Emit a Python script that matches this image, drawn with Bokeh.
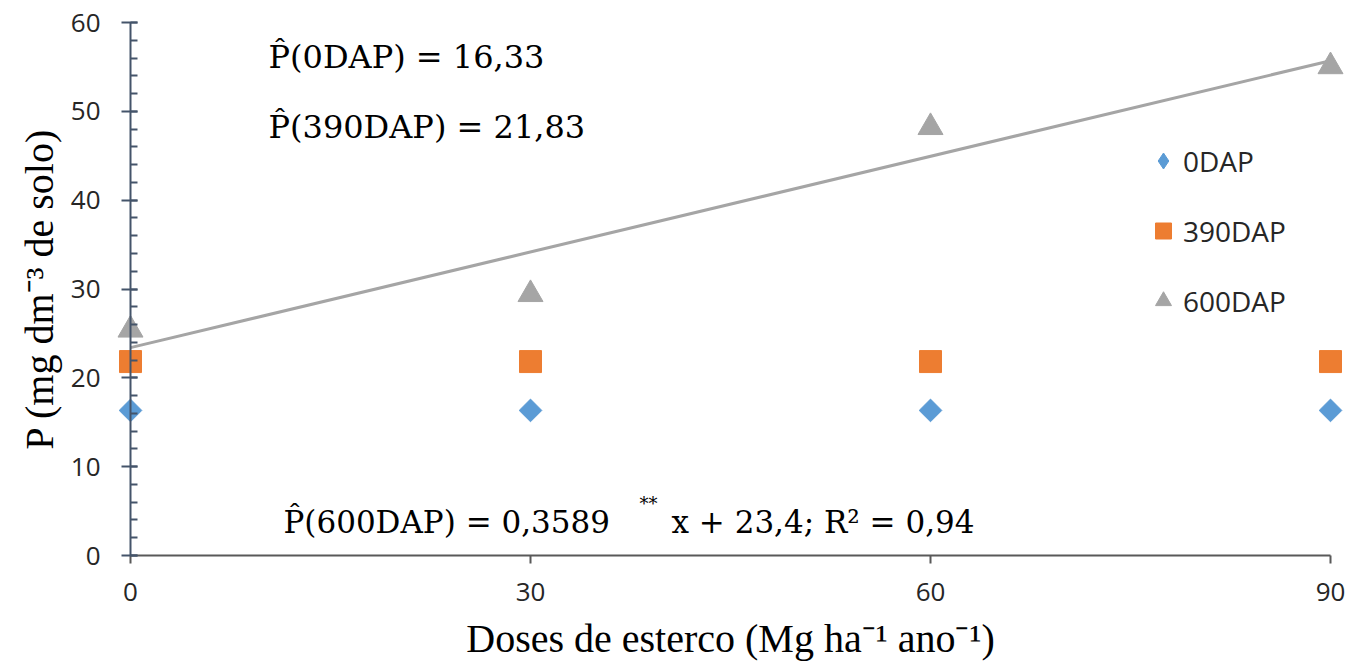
from bokeh.plotting import figure
from bokeh.models import Range1d, FixedTicker, SingleIntervalTicker, Legend, LegendItem, Label
from bokeh.embed import file_html
from bokeh.resources import INLINE
import math

# ---- data ----
doses = [0, 30, 60, 90]
p_0dap = [16.33, 16.33, 16.33, 16.33]
p_390dap = [21.83, 21.83, 21.83, 21.83]
p_600dap = [25.4, 29.4, 48.2, 55.05]
trend_slope = 0.3589
trend_intercept = 23.4
series_names = ["0DAP", "390DAP", "600DAP"]
x_ticks = [0, 30, 60, 90]

# ---- layout (pixels) ----
W, H = 1346, 666
X0_PX, X90_PX = 130, 1330      # canvas px of x=0 and x=90
Y60_PX, Y0_PX = 22, 555        # canvas px of y=60 and y=0
sx = (X90_PX - X0_PX) / 90.0
sy = (Y0_PX - Y60_PX) / 60.0
x_start = -X0_PX / sx
x_end = 90 + (W - X90_PX) / sx
y_end = 60 + Y60_PX / sy
y_start = -(H - Y0_PX) / sy

p = figure(width=W, height=H, output_backend="svg", toolbar_location=None,
           x_range=Range1d(x_start, x_end), y_range=Range1d(y_start, y_end),
           min_border=0, outline_line_color=None)
p.xgrid.visible = False
p.ygrid.visible = False
p.title.visible = False

# axes
xa = p.xaxis[0]
ya = p.yaxis[0]
xa.fixed_location = 0
ya.fixed_location = 0
xa.bounds = (0, 90)
ya.bounds = (0, 60)
xa.ticker = FixedTicker(ticks=x_ticks, minor_ticks=[])
ya.ticker = SingleIntervalTicker(interval=10, num_minor_ticks=5)

xa.axis_line_color = "#595959"
xa.axis_line_width = 2
xa.major_tick_line_color = "#595959"
xa.major_tick_line_width = 2
xa.major_tick_in = 0
xa.major_tick_out = 8
xa.minor_tick_line_color = None

ya.axis_line_color = "#44546A"
ya.axis_line_width = 2
ya.major_tick_line_color = "#44546A"
ya.major_tick_line_width = 2
ya.minor_tick_line_color = "#44546A"
ya.minor_tick_line_width = 2
ya.major_tick_in = 7
ya.major_tick_out = 9
ya.minor_tick_in = 7
ya.minor_tick_out = 0

for ax in (xa, ya):
    ax.major_label_text_font = "Open Sans"
    ax.major_label_text_font_size = "26px"
    ax.major_label_text_color = "#262626"
    ax.axis_label_text_font = "Liberation Serif"
    ax.axis_label_text_font_size = "40px"
    ax.axis_label_text_font_style = "normal"
    ax.axis_label_text_color = "#000000"

xa.major_label_standoff = 19
ya.major_label_standoff = 21
xa.axis_label = "Doses de esterco (Mg ha\u207b\u00b9 ano\u207b\u00b9)"
ya.axis_label = "P (mg dm\u207b\u00b3 de solo)"
xa.axis_label_standoff = 12
ya.axis_label_standoff = 6

# trend line for 600DAP
tx = [doses[0], doses[-1]]
ty = [trend_slope * v + trend_intercept for v in tx]
p.line(tx, ty, line_color="#A5A5A5", line_width=3)

# legend key for the diamond series (hidden under the rotated squares)
r0_key = p.scatter(doses, p_0dap, marker="diamond", size=15,
                   fill_color="#5B9BD5", line_color="#5B9BD5")
r0 = p.scatter(doses, p_0dap, marker="square", size=16, angle=math.pi / 4,
               fill_color="#5B9BD5", line_color="#5B9BD5")
r1 = p.scatter(doses, p_390dap, marker="square", size=22,
               fill_color="#ED7D31", line_color="#ED7D31")
r2 = p.scatter(doses, p_600dap, marker="triangle", size=25,
               fill_color="#A5A5A5", line_color="#A5A5A5")

legend = Legend(items=[LegendItem(label=series_names[0], renderers=[r0_key]),
                       LegendItem(label=series_names[1], renderers=[r1]),
                       LegendItem(label=series_names[2], renderers=[r2])],
                location=(1143, 343), glyph_width=40, glyph_height=45,
                spacing=25, padding=0, margin=0, label_standoff=0,
                border_line_color=None, background_fill_alpha=0,
                label_text_font="Open Sans", label_text_font_size="28px",
                label_text_color="#262626")
p.add_layout(legend)

# equation annotations
def dx(page_x):
    return (page_x - X0_PX) / sx

def dy(page_y):
    return (Y0_PX - page_y) / sy

eq_font = "DejaVu Serif"
for txt, px_, py_, fs in [
    ("P\u0302(0DAP) = 16,33", 268, 56, "32px"),
    ("P\u0302(390DAP) = 21,83", 268, 126, "32px"),
    ("P\u0302(600DAP) = 0,3589", 283, 521, "31px"),
    ("**", 639, 503, "18px"),
    ("x + 23,4; R\u00b2 = 0,94", 671, 521, "31px"),
]:
    p.add_layout(Label(x=dx(px_), y=dy(py_), text=txt, text_font=eq_font,
                       text_font_size=fs, text_color="#000000",
                       text_baseline="alphabetic", text_align="left"))

open("out.html", "w").write(file_html(p, INLINE))
